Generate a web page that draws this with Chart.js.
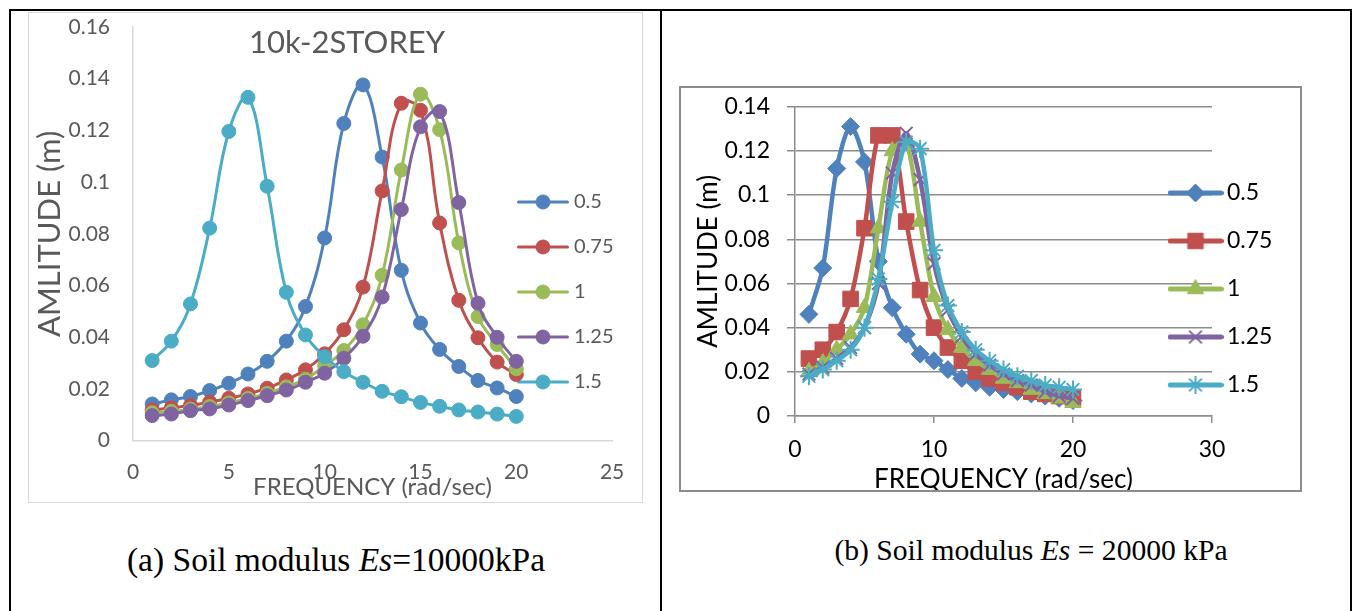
<!DOCTYPE html>
<html><head><meta charset="utf-8">
<script src="https://cdn.jsdelivr.net/npm/chart.js@4.4.0/dist/chart.umd.min.js"></script>
<style>
html,body{margin:0;padding:0;background:#fff;}
body{width:1357px;height:611px;overflow:hidden;position:relative;font-family:Lato,sans-serif}
.ln{position:absolute;background:#000}
#wa{position:absolute;left:28px;top:12px;width:615px;height:491px}
#fa{position:absolute;left:28px;top:12px;width:615px;height:491px;border:1px solid #d9d9d9;box-sizing:border-box;pointer-events:none}
#wb{position:absolute;left:679px;top:86px;width:623px;height:406px}
#fb{position:absolute;left:679px;top:86px;width:623px;height:406px;border:2px solid #8c8c8c;box-sizing:border-box;pointer-events:none}
.cap{position:absolute;font-family:'Liberation Serif',serif;color:#000;white-space:nowrap;transform:translate(-50%,-50%);line-height:1}
canvas{position:absolute;left:0;top:0}
</style></head>
<body>
<div class="ln" style="left:9px;top:9px;width:1343px;height:2px"></div>
<div class="ln" style="left:9px;top:9px;width:2px;height:602px"></div>
<div class="ln" style="left:660px;top:9px;width:2px;height:602px"></div>
<div class="ln" style="left:1350px;top:9px;width:2px;height:602px"></div>
<div id="wa"><canvas id="ca" width="615" height="491"></canvas></div>
<div id="fa"></div>
<div id="wb"><canvas id="cb" width="623" height="406"></canvas></div>
<div id="fb"></div>
<div class="cap" style="left:336px;top:560px;font-size:33.5px">(a) Soil modulus <i>Es</i>=10000kPa</div>
<div class="cap" style="left:1031px;top:551px;font-size:29.6px">(b) Soil modulus <i>Es</i> = 20000 kPa</div>
<script>
// ---------- data ----------
const seriesNames = ['0.5', '0.75', '1', '1.25', '1.5'];
const seriesColors = ['#4F81BD', '#C0504D', '#9BBB59', '#8064A2', '#4BACC6'];
const freq = [1, 2, 3, 4, 5, 6, 7, 8, 9, 10, 11, 12, 13, 14, 15, 16, 17, 18, 19, 20];

// (a) Es = 10000 kPa
const ampA_05  = [0.0142, 0.0158, 0.0171, 0.0194, 0.0222, 0.0258, 0.0307, 0.0385, 0.0519, 0.0784, 0.1227, 0.1376, 0.1097, 0.0659, 0.0455, 0.0353, 0.0287, 0.0233, 0.0204, 0.0171];
const ampA_075 = [0.0119, 0.0127, 0.0136, 0.0149, 0.0164, 0.0181, 0.0203, 0.0235, 0.0274, 0.0336, 0.0429, 0.0594, 0.0966, 0.1305, 0.1278, 0.0842, 0.0543, 0.0398, 0.0304, 0.0256];
const ampA_1   = [0.0108, 0.0113, 0.0122, 0.0132, 0.0146, 0.0163, 0.0183, 0.0208, 0.0238, 0.0290, 0.0349, 0.0448, 0.0640, 0.1047, 0.1340, 0.1203, 0.0765, 0.0480, 0.0372, 0.0278];
const ampA_125 = [0.0097, 0.0103, 0.0116, 0.0123, 0.0138, 0.0155, 0.0174, 0.0196, 0.0226, 0.0261, 0.0319, 0.0404, 0.0556, 0.0894, 0.1214, 0.1273, 0.0921, 0.0532, 0.0400, 0.0307];
const ampA_15  = [0.0310, 0.0385, 0.0529, 0.0822, 0.1196, 0.1328, 0.0984, 0.0574, 0.0409, 0.0325, 0.0267, 0.0226, 0.0191, 0.0170, 0.0148, 0.0133, 0.0119, 0.0111, 0.0103, 0.0094];

// (b) Es = 20000 kPa
const ampB_05  = [0.046, 0.067, 0.112, 0.131, 0.115, 0.070, 0.049, 0.037, 0.028, 0.025, 0.021, 0.017, 0.015, 0.013, 0.012, 0.011, 0.010, 0.009, 0.008, 0.007];
const ampB_075 = [0.026, 0.030, 0.038, 0.053, 0.085, 0.127, 0.127, 0.088, 0.057, 0.040, 0.031, 0.025, 0.020, 0.017, 0.015, 0.013, 0.011, 0.010, 0.009, 0.008];
const ampB_1   = [0.020, 0.024, 0.030, 0.037, 0.049, 0.085, 0.120, 0.124, 0.088, 0.054, 0.039, 0.031, 0.025, 0.021, 0.017, 0.015, 0.012, 0.010, 0.008, 0.006];
const ampB_125 = [0.019, 0.022, 0.026, 0.031, 0.040, 0.060, 0.110, 0.128, 0.107, 0.069, 0.048, 0.036, 0.028, 0.023, 0.019, 0.016, 0.014, 0.011, 0.009, 0.008];
const ampB_15  = [0.018, 0.021, 0.025, 0.030, 0.040, 0.062, 0.097, 0.124, 0.121, 0.075, 0.050, 0.038, 0.030, 0.025, 0.021, 0.018, 0.016, 0.014, 0.013, 0.012];

const yTicksA = [0, 0.02, 0.04, 0.06, 0.08, 0.1, 0.12, 0.14, 0.16];
const xTicksA = [0, 5, 10, 15, 20, 25];
const yTicksB = [0, 0.02, 0.04, 0.06, 0.08, 0.1, 0.12, 0.14];
const xTicksB = [0, 10, 20, 30];

const titleA = '10k-2STOREY';
const xTitle = 'FREQUENCY (rad/sec)';
const yTitle = 'AMLITUDE (m)';

// ---------- helpers ----------
const fmt = v => String(Number(Number(v).toFixed(4)));
function pts(arr) { return freq.map((x, i) => ({x: x, y: arr[i]})); }

function makeIcon(color, style, lineW, radius, borderW, w, h) {
  const c = document.createElement('canvas');
  c.width = w; c.height = h;
  const ctx = c.getContext('2d');
  ctx.strokeStyle = color; ctx.fillStyle = color;
  ctx.lineCap = 'round';
  ctx.lineWidth = lineW;
  ctx.beginPath(); ctx.moveTo(lineW / 2, h / 2); ctx.lineTo(w - lineW / 2, h / 2); ctx.stroke();
  ctx.lineWidth = borderW;
  ctx.lineCap = 'butt';
  if (Chart.helpers && Chart.helpers.drawPoint) {
    Chart.helpers.drawPoint(ctx, {pointStyle: style, rotation: 0, radius: radius, borderWidth: borderW}, w / 2, h / 2);
  } else {
    ctx.beginPath(); ctx.arc(w / 2, h / 2, radius, 0, Math.PI * 2); ctx.fill();
  }
  return c;
}

function placer(o) {
  return {
    id: 'placer',
    afterLayout(chart) {
      const lg = chart.legend;
      if (lg) {
        lg.left = o.legLeft; lg.right = o.legLeft + lg.width;
        lg.top = o.legTop; lg.bottom = o.legTop + 1000; lg.height = 1000;
      }
      const t = chart.titleBlock;
      if (t && o.titleCx != null) {
        const w = t.right - t.left;
        t.left = o.titleCx - w / 2; t.right = o.titleCx + w / 2;
        t.top = o.titleCy - o.titleLH / 2; t.bottom = t.top;
      }
    }
  };
}

function legendGen(icons) {
  return function(chart) {
    const items = Chart.defaults.plugins.legend.labels.generateLabels(chart);
    items.sort((a, b) => a.datasetIndex - b.datasetIndex);
    items.forEach(it => { it.pointStyle = icons[it.datasetIndex]; });
    return items;
  };
}

function draw() {
  Chart.defaults.font.family = 'Lato';
  Chart.defaults.animation = false;

  // ----- chart (a) -----
  const dataA = [ampA_05, ampA_075, ampA_1, ampA_125, ampA_15];
  const iconsA = seriesColors.map(c => makeIcon(c, 'circle', 3, 7, 1, 52, 20));
  const greyA = '#595959';
  const titleLH = 31 * 1.2;
  new Chart(document.getElementById('ca'), {
    type: 'line',
    data: {
      datasets: dataA.map((arr, i) => ({
        label: seriesNames[i],
        data: pts(arr),
        borderColor: seriesColors[i],
        backgroundColor: seriesColors[i],
        borderWidth: 3,
        pointRadius: 7,
        pointHoverRadius: 7,
        pointStyle: 'circle',
        pointBackgroundColor: seriesColors[i],
        pointBorderColor: seriesColors[i],
        pointBorderWidth: 1,
        tension: 0.4,
        fill: false,
        order: dataA.length - i
      }))
    },
    options: {
      responsive: false,
      animation: false,
      layout: {padding: {left: 0, right: 30, top: 15, bottom: 0}},
      scales: {
        x: {
          type: 'linear', min: 0, max: 25,
          afterBuildTicks: s => { s.ticks = xTicksA.map(v => ({value: v})); },
          afterFit: s => { s.height = 62.3; },
          grid: {display: false, drawTicks: false, tickLength: 0},
          border: {display: true, color: '#d9d9d9', width: 1.5},
          ticks: {color: greyA, font: {size: 21}, padding: 18.7, maxRotation: 0, autoSkip: false, callback: v => fmt(v)},
          title: {display: true, text: xTitle, color: greyA, font: {size: 24}, padding: {top: 0, bottom: 1.6}}
        },
        y: {
          min: 0, max: 0.16,
          afterBuildTicks: s => { s.ticks = yTicksA.map(v => ({value: v})); },
          afterFit: s => { s.width = 105; s.paddingTop = 12; s.paddingBottom = 12; },
          grid: {display: false, drawTicks: false, tickLength: 0},
          border: {display: true, color: '#d9d9d9', width: 1.5},
          ticks: {color: greyA, font: {size: 21}, padding: 23, autoSkip: false, callback: v => fmt(v)},
          title: {display: true, text: yTitle, color: greyA, font: {size: 31}, padding: {top: 3.4, bottom: 0}}
        }
      },
      plugins: {
        title: {display: true, text: titleA, color: greyA, font: {size: 31, weight: 'normal', lineHeight: 1.2}, padding: {top: 0, bottom: -titleLH}},
        legend: {
          position: 'chartArea', align: 'start', fullSize: false,
          labels: {usePointStyle: true, pointStyleWidth: 42, padding: 25, color: greyA, font: {size: 20}, generateLabels: legendGen(iconsA)}
        },
        tooltip: {enabled: false}
      }
    },
    plugins: [placer({legLeft: 469, legTop: 155, titleCx: 319, titleCy: 31, titleLH: titleLH})]
  });

  // ----- chart (b) -----
  const dataB = [ampB_05, ampB_075, ampB_1, ampB_125, ampB_15];
  const stylesB = ['rectRot', 'rect', 'triangle', 'crossRot', 'star'];
  const radiiB = [9, 11, 9.5, 9, 9];
  const bwB = [1, 1, 1, 2, 2];
  const iconsB = seriesColors.map((c, i) => makeIcon(c, stylesB[i], 5, radiiB[i], bwB[i], 56, 26));
  const gridB = '#8c8c8c';
  new Chart(document.getElementById('cb'), {
    type: 'line',
    data: {
      datasets: dataB.map((arr, i) => ({
        label: seriesNames[i],
        data: pts(arr),
        borderColor: seriesColors[i],
        backgroundColor: seriesColors[i],
        borderWidth: 4.5,
        pointRadius: radiiB[i],
        pointHoverRadius: radiiB[i],
        pointStyle: stylesB[i],
        pointBackgroundColor: seriesColors[i],
        pointBorderColor: seriesColors[i],
        pointBorderWidth: bwB[i],
        tension: 0.3,
        fill: false,
        order: dataB.length - i
      }))
    },
    options: {
      responsive: false,
      animation: false,
      layout: {padding: {left: 0, right: 90, top: 20.7, bottom: 0}},
      scales: {
        x: {
          type: 'linear', min: 0, max: 30,
          afterBuildTicks: s => { s.ticks = xTicksB.map(v => ({value: v})); },
          afterFit: s => { s.height = 76; },
          grid: {display: true, drawOnChartArea: false, drawTicks: true, tickLength: 7, color: gridB, lineWidth: 1.5},
          border: {display: true, color: gridB, width: 1.5},
          ticks: {color: '#000', font: {size: 23}, padding: 13.2, maxRotation: 0, autoSkip: false, callback: v => fmt(v)},
          title: {display: true, text: xTitle, color: '#000', font: {size: 26}, padding: {top: 0, bottom: -3.6}}
        },
        y: {
          min: 0, max: 0.14,
          afterBuildTicks: s => { s.ticks = yTicksB.map(v => ({value: v})); },
          afterFit: s => { s.width = 116; s.paddingTop = 14; s.paddingBottom = 14; },
          grid: {display: true, drawOnChartArea: true, drawTicks: true, tickLength: 8, color: gridB, lineWidth: 1.5},
          border: {display: true, color: gridB, width: 1.5},
          ticks: {color: '#000', font: {size: 23}, padding: 17, autoSkip: false, callback: v => fmt(v)},
          title: {display: true, text: yTitle, color: '#000', font: {size: 26}, padding: {top: 14.4, bottom: 0}}
        }
      },
      plugins: {
        legend: {
          position: 'chartArea', align: 'start', fullSize: false,
          labels: {usePointStyle: true, pointStyleWidth: 40, padding: 25, color: '#000', font: {size: 23}, generateLabels: legendGen(iconsB)}
        },
        tooltip: {enabled: false}
      }
    },
    plugins: [placer({legLeft: 471.5, legTop: 70.5})]
  });
}

if (document.fonts && document.fonts.load) {
  Promise.all([document.fonts.load('20px Lato'), document.fonts.load('31px "Liberation Serif"')]).then(draw, draw);
} else { draw(); }
</script>
</body></html>
